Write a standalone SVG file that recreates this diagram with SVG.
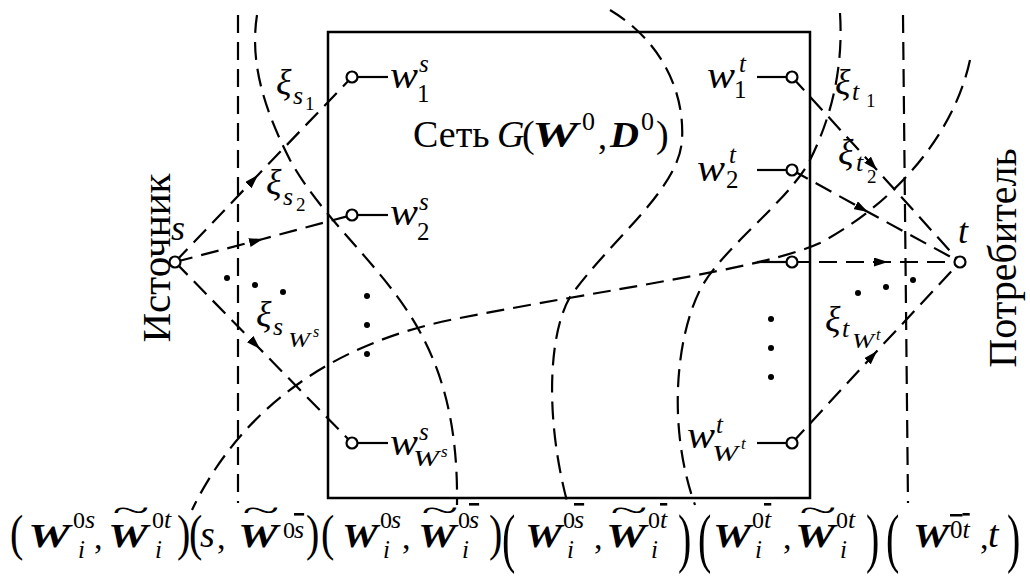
<svg xmlns="http://www.w3.org/2000/svg" width="1030" height="577" viewBox="0 0 1030 577">
<defs>
<style>
.m{font-family:"Liberation Serif",serif;font-style:italic;fill:#000}
.u{font-family:"Liberation Serif",serif;fill:#000}
.b{font-family:"Liberation Serif",serif;font-style:italic;font-weight:bold;fill:#000}
.d{fill:none;stroke:#000;stroke-width:2.2;stroke-dasharray:18 9}
.ar{marker-mid:url(#ah)}
.st{stroke:#000;stroke-width:2.2}
.nd{fill:#fff;stroke:#000;stroke-width:2.2}
.ov{text-decoration:overline}
.dot{fill:#000}
.p{font-family:"Liberation Serif",serif;font-size:50px;fill:#000}
</style>
<marker id="ah" viewBox="0 0 14 9" refX="14" refY="4.5" markerWidth="14" markerHeight="9" markerUnits="userSpaceOnUse" orient="auto"><path d="M0,0 L14,4.5 L0,9 z" fill="#000"/></marker>
</defs>
<rect width="1030" height="577" fill="#fff"/>

<g id="network">
<rect x="328" y="32" width="482" height="466" fill="none" stroke="#000" stroke-width="2.5"/>
<text class="u" font-size="38" x="413" y="147">Сеть</text>
<text class="m" font-size="38" x="497" y="147">G</text>
<text class="u" font-size="38" x="522" y="147">(</text>
<text class="b" font-size="36" x="532" y="147" textLength="46" lengthAdjust="spacingAndGlyphs">W</text>
<text class="u" font-size="26" x="582" y="130">0</text>
<text class="u" font-size="36" x="598" y="149">,</text>
<text class="b" font-size="36" x="610" y="147" textLength="29" lengthAdjust="spacingAndGlyphs">D</text>
<text class="u" font-size="26" x="641" y="130">0</text>
<text class="u" font-size="38" x="656" y="147">)</text>
</g>

<g id="cuts">
<line class="d" x1="238" y1="15" x2="238" y2="503"/>
<line class="d" x1="903" y1="15" x2="908" y2="503"/>
<path class="d" d="M257,15 C250,60 262,105 290,160 C320,215 375,260 410,315 C445,370 458,430 457,505"/>
<path class="d" d="M610,10 C660,40 685,90 682,140 C679,190 610,240 570,297 C548,335 545,420 568,505"/>
<path class="d" d="M840,13 C843,60 835,110 810,160 C790,200 720,250 700,290 C675,340 668,430 695,505"/>
<path class="d" d="M970,60 C955,130 900,200 820,243 C760,270 600,290 450,320 C330,345 240,410 192,510"/>
</g>

<g id="connectors">
<path class="d ar" d="M175,262 L258,175 L352,77"/>
<path class="d ar" d="M175,262 L263,239 L352,215"/>
<path class="d ar" d="M175,262 L260,349 L352,443"/>
<path class="d ar" d="M792,77 L877,170 L960,262"/>
<path class="d ar" d="M792,170 L868,212 L960,262"/>
<path class="d ar" d="M792,262 L888,262 L960,262"/>
<path class="d ar" d="M792,443 L877,351 L960,262"/>
</g>

<g id="dots">
<circle class="dot" cx="227" cy="278" r="3"/>
<circle class="dot" cx="255" cy="285" r="3"/>
<circle class="dot" cx="283" cy="292" r="3"/>
<circle class="dot" cx="367" cy="296" r="3"/>
<circle class="dot" cx="367" cy="325" r="3"/>
<circle class="dot" cx="367" cy="354" r="3"/>
<circle class="dot" cx="771" cy="319" r="3"/>
<circle class="dot" cx="771" cy="348" r="3"/>
<circle class="dot" cx="771" cy="377" r="3"/>
<circle class="dot" cx="858" cy="293" r="3"/>
<circle class="dot" cx="886" cy="287" r="3"/>
<circle class="dot" cx="913" cy="280" r="3"/>
</g>

<g id="flow-labels">
<text class="m" font-size="36" x="276" y="94">ξ</text><text class="m" font-size="26" x="293" y="104">s</text><text class="u" font-size="19" x="305" y="110">1</text>
<text class="m" font-size="36" x="266" y="194">ξ</text><text class="m" font-size="26" x="283" y="205">s</text><text class="u" font-size="19" x="296" y="211">2</text>
<text class="m" font-size="36" x="256" y="326">ξ</text><text class="m" font-size="26" x="273" y="335">s</text><text class="m" font-size="20" x="288" y="347" textLength="22" lengthAdjust="spacingAndGlyphs">W</text><text class="m" font-size="16" x="313" y="337">s</text>
<text class="m" font-size="36" x="835" y="94">ξ</text><text class="m" font-size="26" x="852" y="100">t</text><text class="u" font-size="19" x="866" y="107">1</text>
<text class="m" font-size="36" x="838" y="164">ξ</text><text class="m" font-size="26" x="856" y="171">t</text><text class="u" font-size="19" x="867" y="183">2</text>
<text class="m" font-size="36" x="825" y="331">ξ</text><text class="m" font-size="26" x="842" y="337">t</text><text class="m" font-size="20" x="852" y="348" textLength="22" lengthAdjust="spacingAndGlyphs">W</text><text class="m" font-size="16" x="876" y="340">t</text>
</g>

<g id="source">
<circle class="nd" cx="175" cy="262" r="5.5"/>
<text class="m" font-size="36" x="171" y="240">s</text>
<text class="u" font-size="41" text-anchor="middle" transform="translate(170,258) rotate(-90)">Источник</text>
</g>

<g id="sink">
<circle class="nd" cx="960" cy="262" r="5.5"/>
<text class="m" font-size="36" x="958" y="243">t</text>
<text class="u" font-size="40" text-anchor="middle" transform="translate(1016,258) rotate(-90)">Потребитель</text>
</g>

<g id="w1s">
<line class="st" x1="357.5" y1="77" x2="388" y2="77"/><circle class="nd" cx="352" cy="77" r="5.5"/>
<text class="m" font-size="38" x="390" y="88" textLength="28" lengthAdjust="spacingAndGlyphs">w</text><text class="u" font-size="25" x="417" y="102">1</text><text class="m" font-size="25" x="419" y="72">s</text>
</g>
<g id="w2s">
<line class="st" x1="357.5" y1="215" x2="388" y2="215"/><circle class="nd" cx="352" cy="215" r="5.5"/>
<text class="m" font-size="38" x="390" y="225" textLength="28" lengthAdjust="spacingAndGlyphs">w</text><text class="u" font-size="25" x="417" y="240">2</text><text class="m" font-size="25" x="419" y="210">s</text>
</g>
<g id="wWs">
<line class="st" x1="357.5" y1="443" x2="388" y2="443"/><circle class="nd" cx="352" cy="443" r="5.5"/>
<text class="m" font-size="38" x="390" y="455" textLength="28" lengthAdjust="spacingAndGlyphs">w</text><text class="m" font-size="25" x="419" y="440">s</text><text class="m" font-size="24" x="413" y="466" textLength="26" lengthAdjust="spacingAndGlyphs">W</text><text class="m" font-size="17" x="441" y="457">s</text>
</g>
<g id="w1t">
<line class="st" x1="757" y1="77" x2="786.5" y2="77"/><circle class="nd" cx="792" cy="77" r="5.5"/>
<text class="m" font-size="38" x="707" y="88" textLength="28" lengthAdjust="spacingAndGlyphs">w</text><text class="u" font-size="25" x="734" y="98">1</text><text class="m" font-size="25" x="739" y="72">t</text>
</g>
<g id="w2t">
<line class="st" x1="757" y1="170" x2="786.5" y2="170"/><circle class="nd" cx="792" cy="170" r="5.5"/>
<text class="m" font-size="38" x="697" y="181" textLength="28" lengthAdjust="spacingAndGlyphs">w</text><text class="u" font-size="25" x="726" y="188">2</text><text class="m" font-size="25" x="729" y="163">t</text>
</g>
<g id="w3t">
<line class="st" x1="757" y1="262" x2="786.5" y2="262"/><circle class="nd" cx="792" cy="262" r="5.5"/>
</g>
<g id="wWt">
<line class="st" x1="757" y1="443" x2="786.5" y2="443"/><circle class="nd" cx="792" cy="443" r="5.5"/>
<text class="m" font-size="38" x="687" y="448" textLength="28" lengthAdjust="spacingAndGlyphs">w</text><text class="m" font-size="25" x="716" y="433">t</text><text class="m" font-size="24" x="712" y="461" textLength="26" lengthAdjust="spacingAndGlyphs">W</text><text class="m" font-size="17" x="741" y="449">t</text>
</g>

<g id="cut-labels">
<text class="p" transform="translate(10,550) scale(0.8,1)">(</text>
<text class="b" font-size="34" x="28" y="547" textLength="42" lengthAdjust="spacingAndGlyphs">W</text>
<text class="u" font-size="24" x="73" y="528">0</text><text class="m" font-size="26" x="85" y="528">s</text>
<text class="m" font-size="25" x="78" y="558">i</text>
<text class="u" font-size="34" x="94" y="549">,</text>
<text class="b" font-size="34" x="108" y="547" textLength="40" lengthAdjust="spacingAndGlyphs">W</text>
<text class="u" font-size="34" text-anchor="middle" transform="translate(131,521) scale(2,0.9)">~</text>
<text class="u" font-size="24" x="152" y="528">0</text><text class="m" font-size="26" x="164" y="528">t</text>
<text class="m" font-size="25" x="155" y="558">i</text>
<text class="p" transform="translate(177,550) scale(0.8,1)">)</text>

<text class="p" transform="translate(189,550) scale(0.8,1)">(</text>
<text class="m" font-size="38" x="200" y="547">s</text>
<text class="u" font-size="34" x="217" y="549">,</text>
<text class="b" font-size="34" x="238" y="547" textLength="40" lengthAdjust="spacingAndGlyphs">W</text>
<text class="u" font-size="34" text-anchor="middle" transform="translate(261,521) scale(2,0.9)">~</text>
<text class="u" font-size="24" x="283" y="538">0</text><text class="m ov" font-size="26" x="294" y="538">s</text>
<text class="p" transform="translate(306,550) scale(0.8,1)">)</text>

<text class="p" transform="translate(321,550) scale(0.8,1)">(</text>
<text class="b" font-size="34" x="342" y="547" textLength="36" lengthAdjust="spacingAndGlyphs">W</text>
<text class="u" font-size="24" x="380" y="528">0</text><text class="m" font-size="26" x="391" y="528">s</text>
<text class="m" font-size="25" x="383" y="558">i</text>
<text class="u" font-size="34" x="402" y="549">,</text>
<text class="b" font-size="34" x="418" y="547" textLength="38" lengthAdjust="spacingAndGlyphs">W</text>
<text class="u" font-size="34" text-anchor="middle" transform="translate(440,521) scale(2,0.9)">~</text>
<text class="u" font-size="24" x="458" y="528">0</text><text class="m ov" font-size="26" x="469" y="528">s</text>
<text class="m" font-size="25" x="462" y="558">i</text>
<text class="p" transform="translate(489,550) scale(0.8,1)">)</text>

<text class="p" transform="translate(502,560) scale(0.8,1.3)">(</text>
<text class="b" font-size="34" x="525" y="547" textLength="37" lengthAdjust="spacingAndGlyphs">W</text>
<text class="u" font-size="24" x="563" y="528">0</text><text class="m ov" font-size="26" x="574" y="528">s</text>
<text class="m" font-size="25" x="567" y="558">i</text>
<text class="u" font-size="34" x="594" y="549">,</text>
<text class="b" font-size="34" x="606" y="547" textLength="40" lengthAdjust="spacingAndGlyphs">W</text>
<text class="u" font-size="34" text-anchor="middle" transform="translate(629,521) scale(2,0.9)">~</text>
<text class="u" font-size="24" x="648" y="528">0</text><text class="m ov" font-size="26" x="660" y="528">t</text>
<text class="m" font-size="25" x="651" y="558">i</text>
<text class="p" transform="translate(678,560) scale(0.8,1.3)">)</text>

<text class="p" transform="translate(698,560) scale(0.8,1.3)">(</text>
<text class="b" font-size="34" x="713" y="547" textLength="38" lengthAdjust="spacingAndGlyphs">W</text>
<text class="u" font-size="24" x="752" y="528">0</text><text class="m ov" font-size="26" x="764" y="528">t</text>
<text class="m" font-size="25" x="755" y="558">i</text>
<text class="u" font-size="34" x="783" y="549">,</text>
<text class="b" font-size="34" x="795" y="547" textLength="40" lengthAdjust="spacingAndGlyphs">W</text>
<text class="u" font-size="34" text-anchor="middle" transform="translate(818,521) scale(2,0.9)">~</text>
<text class="u" font-size="24" x="836" y="528">0</text><text class="m" font-size="26" x="848" y="528">t</text>
<text class="m" font-size="25" x="840" y="558">i</text>
<text class="p" transform="translate(866,560) scale(0.8,1.3)">)</text>

<text class="p" transform="translate(886,560) scale(0.8,1.3)">(</text>
<text class="b" font-size="34" x="913" y="547" textLength="36" lengthAdjust="spacingAndGlyphs">W</text>
<text class="ov" font-size="25" y="538"><tspan class="u" x="950">0</tspan><tspan class="m" font-size="26">t</tspan></text>
<text class="u" font-size="34" x="980" y="549">,</text>
<text class="m" font-size="38" x="988" y="547">t</text>
<text class="p" transform="translate(1007,560) scale(0.8,1.3)">)</text>
</g>
</svg>
